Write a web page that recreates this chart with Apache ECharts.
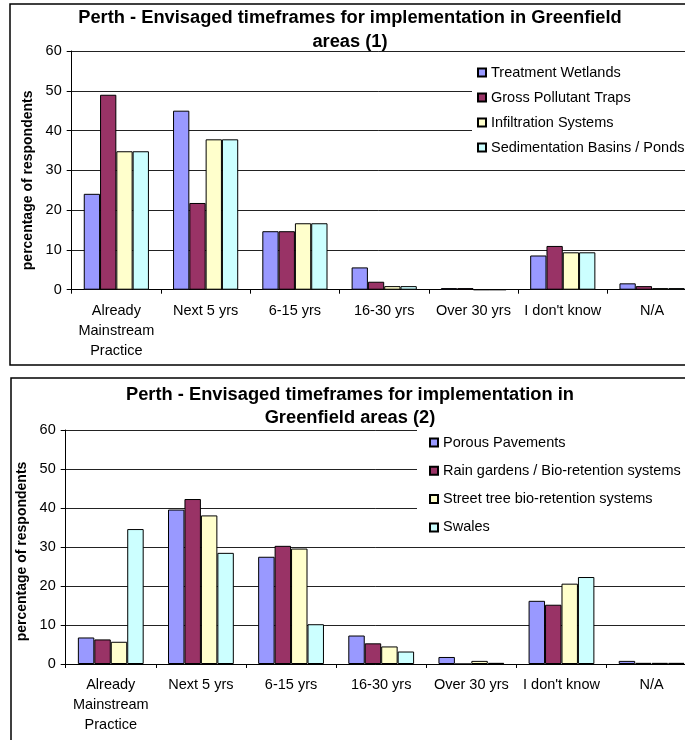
<!DOCTYPE html>
<html>
<head>
<meta charset="utf-8">
<script src="https://cdn.jsdelivr.net/npm/echarts@6/dist/echarts.min.js"></script>
<style>
html,body{margin:0;padding:0;background:#fff;overflow:hidden}
#c{width:685px;height:740px}
</style>
</head>
<body>
<div id="c"></div>
<script>
const categories = ['Already\nMainstream\nPractice', 'Next 5 yrs', '6-15 yrs', '16-30 yrs', 'Over 30 yrs', "I don't know", 'N/A'];
const yTicks = { min: 0, max: 60, interval: 10 };

const title1 = 'Perth - Envisaged timeframes for implementation in Greenfield\nareas (1)';
const title2 = 'Perth - Envisaged timeframes for implementation in\nGreenfield areas (2)';
const yName = 'percentage of respondents';

const names1 = ['Treatment Wetlands', 'Gross Pollutant Traps', 'Infiltration Systems', 'Sedimentation Basins / Ponds'];
const treatmentWetlands   = [24.1, 45.0, 14.7, 5.6, 0.4, 8.6, 1.6];
const grossPollutantTraps = [49.0, 21.8, 14.7, 2.0, 0.4, 11.0, 0.9];
const infiltrationSystems = [34.8, 37.8, 16.7, 0.9, 0, 9.4, 0.4];
const sedimentationBasins = [34.8, 37.8, 16.7, 0.9, 0, 9.4, 0.4];

const names2 = ['Porous Pavements', 'Rain gardens / Bio-retention systems', 'Street tree bio-retention systems', 'Swales'];
const porousPavements   = [6.8, 39.6, 27.5, 7.3, 1.8, 16.2, 0.8];
const rainGardens       = [6.3, 42.3, 30.3, 5.3, 0, 15.2, 0.3];
const streetTree        = [5.7, 38.1, 29.6, 4.5, 0.8, 20.6, 0.3];
const swales            = [34.6, 28.5, 10.2, 3.2, 0.3, 22.3, 0.3];

const colors = ['#9999FF', '#993366', '#FFFFCC', '#CCFFFF'];
const FONT = '"Liberation Sans", Arial, sans-serif';

const chart = echarts.init(document.getElementById('c'), null, { renderer: 'canvas' });

function xAxisDef(gi, margin) {
  return {
    type: 'category', gridIndex: gi, data: categories, boundaryGap: true,
    axisLine: { show: true, lineStyle: { color: '#000', width: 1 } },
    axisTick: { show: true, interval: 0, length: 4, inside: false, lineStyle: { color: '#000' } },
    axisLabel: { interval: 0, margin: margin, color: '#000', fontSize: 14.5, lineHeight: 20, fontFamily: FONT },
    splitLine: { show: false }
  };
}
function yAxisDef(gi, gap, pad) {
  return {
    type: 'value', gridIndex: gi, min: yTicks.min, max: yTicks.max, interval: yTicks.interval,
    name: yName, nameLocation: 'middle', nameGap: gap,
    nameTextStyle: { fontSize: 14, fontWeight: 'bold', color: '#000', fontFamily: FONT, lineHeight: 14, padding: pad },
    axisLine: { show: true, lineStyle: { color: '#000', width: 1 } },
    axisTick: { show: true, length: 5, inside: false, lineStyle: { color: '#000' } },
    axisLabel: { margin: 10, color: '#000', fontSize: 14.5, fontFamily: FONT },
    splitLine: { show: true, lineStyle: { color: '#222', width: 1 } }
  };
}
function barSeries(name, data, idx, gi) {
  return {
    type: 'bar', name: name, data: data, xAxisIndex: gi, yAxisIndex: gi,
    barGap: '0%', barCategoryGap: '27%',
    itemStyle: { color: colors[idx], borderColor: '#000', borderWidth: 1 },
    emphasis: { disabled: true },
    animation: false
  };
}

const option = {
  animation: false,
  textStyle: { fontFamily: FONT },
  graphic: [
    { type: 'rect', z: 100, silent: true, shape: { x: 10, y: 4, width: 700, height: 361 }, style: { fill: 'none', stroke: '#000', lineWidth: 1.5 } },
    { type: 'rect', z: 100, silent: true, shape: { x: 11, y: 378, width: 700, height: 400 }, style: { fill: 'none', stroke: '#000', lineWidth: 1.5 } }
  ],
  title: [
    { text: title1, left: 350, top: 6, textAlign: 'center', padding: 0,
      textStyle: { fontSize: 18.3, fontWeight: 'bold', color: '#000', lineHeight: 23.7, fontFamily: FONT } },
    { text: title2, left: 350, top: 383.5, textAlign: 'center', padding: 0,
      textStyle: { fontSize: 18.3, fontWeight: 'bold', color: '#000', lineHeight: 23, fontFamily: FONT } }
  ],
  legend: [
    { data: names1, orient: 'vertical', left: 472, top: 56, padding: [9, 30, 10, 5],
      backgroundColor: '#fff', itemWidth: 8, itemHeight: 8, itemGap: 10, icon: 'rect',
      textStyle: { fontSize: 14.5, color: '#000', lineHeight: 14, fontFamily: FONT }, z: 10 },
    { data: names2, orient: 'vertical', left: 417, top: 427, padding: [8, 30, 8, 12],
      backgroundColor: '#fff', itemWidth: 8, itemHeight: 8, itemGap: 13.3, icon: 'rect',
      textStyle: { fontSize: 14.5, color: '#000', lineHeight: 14, fontFamily: FONT }, z: 10 }
  ],
  grid: [
    { left: 71.7, top: 51, width: 625, height: 238.7, outerBoundsMode: 'none', containLabel: false },
    { left: 65.7, top: 430, width: 631, height: 234, outerBoundsMode: 'none', containLabel: false }
  ],
  xAxis: [xAxisDef(0, 11), xAxisDef(1, 11)],
  yAxis: [yAxisDef(0, 37, [0, 20, 0, 0]), yAxisDef(1, 31, [0, 9, 0, 0])],
  series: [
    barSeries(names1[0], treatmentWetlands, 0, 0),
    barSeries(names1[1], grossPollutantTraps, 1, 0),
    barSeries(names1[2], infiltrationSystems, 2, 0),
    barSeries(names1[3], sedimentationBasins, 3, 0),
    barSeries(names2[0], porousPavements, 0, 1),
    barSeries(names2[1], rainGardens, 1, 1),
    barSeries(names2[2], streetTree, 2, 1),
    barSeries(names2[3], swales, 3, 1)
  ]
};
chart.setOption(option);
</script>
</body>
</html>
